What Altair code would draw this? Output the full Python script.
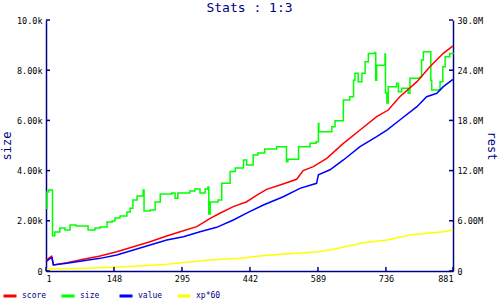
import altair as alt
import pandas as pd

# ---- data ----
size_x = [1, 3, 7, 14, 15, 20, 31, 42, 53, 66, 92, 107, 118, 133, 144, 150, 161, 176, 183, 189,
          198, 211, 213, 226, 237, 248, 273, 280, 286, 312, 323, 334, 345, 351, 353, 356, 373,
          381, 399, 410, 428, 435, 449, 459, 474, 500, 521, 524, 547, 572, 585, 590, 591, 619,
          626, 644, 658, 666, 669, 676, 684, 691, 698, 712, 714, 716, 732, 734, 735, 738, 741,
          759, 763, 770, 784, 788, 810, 813, 817, 831, 833, 835, 853, 859, 864, 874, 881]
size_k = [2.5, 3.15, 3.23, 3.23, 1.4, 1.55, 1.71, 1.63, 1.83, 1.79, 1.63, 1.71, 1.75, 1.95, 1.99,
          2.11, 2.19, 2.35, 2.5, 2.83, 2.99, 3.23, 2.39, 2.43, 2.75, 3.07, 3.11, 2.9, 3.11, 3.19,
          3.27, 3.11, 3.27, 3.35, 2.27, 2.75, 2.83, 3.5, 3.96, 4.1, 4.42, 4.22, 4.62, 4.7, 4.86,
          4.95, 4.35, 4.45, 4.95, 5.09, 5.15, 5.88, 5.55, 5.75, 5.99, 6.81, 6.94, 7.6, 7.88, 7.54,
          7.88, 8.34, 8.67, 8.71, 7.6, 8.2, 8.2, 8.65, 7.09, 6.69, 7.34, 7.48, 7.14, 7.28, 7.08,
          7.68, 7.74, 8.41, 8.74, 8.74, 7.6, 7.21, 7.54, 8.14, 8.54, 8.67, 8.7]

score_x = [1, 13, 17, 46, 82, 118, 154, 190, 226, 262, 291, 327, 356, 377, 406, 435, 457, 478,
           507, 543, 557, 579, 608, 644, 680, 716, 741, 766, 803, 831, 860, 881]
score_m = [1.31, 1.75, 0.72, 1.0, 1.4, 1.79, 2.31, 2.9, 3.5, 4.18, 4.7, 5.3, 6.3, 6.9, 7.69, 8.28,
           9.08, 9.76, 10.28, 10.96, 12.0, 12.47, 13.47, 15.26, 16.85, 18.44, 19.24, 20.83,
           22.63, 24.42, 26.02, 26.9]

value_x = [1, 10, 14, 17, 46, 82, 118, 154, 190, 226, 262, 298, 334, 370, 406, 438, 471, 514,
           550, 586, 590, 615, 644, 680, 716, 738, 766, 803, 824, 846, 860, 881]
value_m = [1.11, 1.51, 1.6, 0.72, 0.92, 1.23, 1.51, 1.91, 2.5, 3.1, 3.7, 4.1, 4.7, 5.22, 6.1, 7.0,
           7.89, 8.88, 9.88, 10.48, 11.5, 12.1, 13.27, 14.86, 16.05, 16.85, 18.05, 19.64,
           20.83, 21.24, 22.03, 22.9]

xp_x = [1, 89, 146, 211, 262, 354, 420, 478, 543, 590, 615, 665, 687, 738, 788, 860, 881]
xp_m = [0.24, 0.32, 0.44, 0.64, 0.8, 1.31, 1.51, 1.87, 2.11, 2.31, 2.51, 3.1, 3.38, 3.7, 4.3,
        4.7, 4.9]

x_ticks = [1, 148, 295, 442, 589, 736, 881]
left_ticks = [0, 2000, 4000, 6000, 8000, 10000]
right_ticks = [0, 6e6, 12e6, 18e6, 24e6, 30e6]

series_names = ["score", "size", "value", "xp*60"]
series_colors = ["#ff0000", "#00ff00", "#0000ff", "#ffff00"]

# ---- tables ----
size_df = pd.DataFrame({"x": size_x, "v": [s * 1000 for s in size_k], "series": "size"})
rest_df = pd.concat([
    pd.DataFrame({"x": score_x, "v": [s * 1e6 for s in score_m], "series": "score"}),
    pd.DataFrame({"x": value_x, "v": [s * 1e6 for s in value_m], "series": "value"}),
    pd.DataFrame({"x": xp_x, "v": [s * 1e6 for s in xp_m], "series": "xp*60"}),
])
lt_df = pd.DataFrame({"x": [1] * len(left_ticks), "v": left_ticks})
rt_df = pd.DataFrame({"x": [881] * len(right_ticks), "v": right_ticks})
xt_df = pd.DataFrame({"x": x_ticks, "v": [0] * len(x_ticks)})

NAVY = "#000080"
MONO = "DejaVu Sans Mono"
W, H = 407, 251

x_scale = alt.Scale(domain=[1, 881], nice=False, zero=False)
yl_scale = alt.Scale(domain=[0, 10000], nice=False)
yr_scale = alt.Scale(domain=[0, 30e6], nice=False)
lab_expr = "datum.value == 0 ? '0' : format(datum.value, '.3s')"

axis_common = dict(domainColor=NAVY, domainWidth=1.5, ticks=False, grid=False,
                   labelFont=MONO, labelFontSize=8.5, labelColor="#000000",
                   titleFont=MONO, titleFontSize=12, titleFontWeight="normal", titleColor=NAVY)

x_axis = alt.Axis(values=x_ticks, title=None, labelPadding=3, **axis_common)
yl_axis = alt.Axis(orient="left", title="size", values=left_ticks, labelExpr=lab_expr,
                   labelPadding=4, titlePadding=3, **axis_common)
yr_axis = alt.Axis(orient="right", title="rest", values=right_ticks, labelExpr=lab_expr,
                   labelPadding=4, titlePadding=2, **axis_common)

color = alt.Color(
    "series:N",
    scale=alt.Scale(domain=series_names, range=series_colors),
    legend=alt.Legend(
        title=None, orient="none", legendX=-44, legendY=268, direction="horizontal",
        symbolType="stroke", symbolSize=169, symbolStrokeWidth=3, gridAlign="all",
        columnPadding=8, labelOffset=4, labelFont=MONO, labelFontSize=8, labelColor=NAVY,
    ),
)

xe = alt.X("x:Q", scale=x_scale, axis=x_axis)
yl = alt.Y("v:Q", scale=yl_scale, axis=yl_axis)
yr = alt.Y("v:Q", scale=yr_scale, axis=yr_axis)

size_line = alt.Chart(size_df).mark_line(interpolate="step-after", strokeWidth=1.5).encode(
    x=xe, y=yl, color=color,
)
left_tick_rules = alt.Chart(lt_df).mark_rule(color=NAVY, strokeWidth=1.5).encode(
    x=alt.value(0), x2=alt.value(4), y=yl,
)
left = alt.layer(size_line, left_tick_rules)

rest_lines = alt.Chart(rest_df).mark_line(strokeWidth=1.5).encode(
    x=xe, y=yr, color=color,
)
right_tick_rules = alt.Chart(rt_df).mark_rule(color=NAVY, strokeWidth=1.5).encode(
    x=alt.value(W - 4), x2=alt.value(W), y=yr,
)
x_tick_rules = alt.Chart(xt_df).mark_rule(color=NAVY, strokeWidth=1.5).encode(
    x=xe, y=alt.value(H - 4), y2=alt.value(H),
)
right = alt.layer(rest_lines, right_tick_rules, x_tick_rules)

chart = (
    alt.layer(left, right)
    .resolve_scale(y="independent")
    .properties(
        width=W, height=H,
        title=alt.TitleParams("Stats : 1:3", font=MONO, fontSize=13, fontWeight="normal",
                              color=NAVY, anchor="middle", offset=1),
        padding={"left": 46, "top": 20, "right": 47, "bottom": 29},
        autosize=alt.AutoSizeParams(type="none"),
    )
    .configure_view(stroke=None)
)

chart.save("out.html", embed_options={"renderer": "svg", "actions": False})
